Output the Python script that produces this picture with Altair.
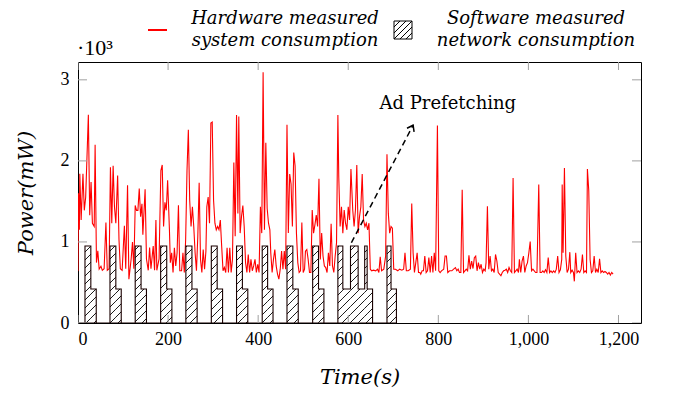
import math
import altair as alt
import pandas as pd

# ---------------- data ----------------
hw_seg_a = [(0,640),(1,1600),(3,1150),(4,1840),(7,1270),(11,1840),(14,1390),(17,1550),(23,2570),(26,1330),(29,1740),(32,1230),(36,1190),(38,2200),(41,745),(44,890),(47,665),(51,700),(54,650),(58,670),(62,1240),(65,650),(69,670),(72,1920),(75,1230),(78,1940),(81,1430),(84,1230),(88,1820),(91,1030),(94,670),(98,650),(103,1200),(106,670),(110,1700),(113,540),(118,790),(121,1000),(124,670),(127,1450),(130,1390),(133,1390),(136,1660),(139,1310),(142,1470),(144,1090),(149,1650),(152,790),(156,650),(159,930),(162,670),(167,950),(170,650),(173,1270),(175,650),(180,790),(184,1880),(187,1950),(190,1190),(193,1490),(196,1390),(199,1760),(203,1150)]
hw_seg_b = [(205,745),(208,866),(211,623),(214,927),(217,704),(220,866),(223,1454),(226,644),(230,644),(233,866),(236,623),(239,1028),(242,1879),(245,2385),(248,1514),(251,1190),(254,1433),(257,1190),(260,866),(263,644),(266,1069),(269,1729),(272,785),(275,623),(278,907),(281,664),(284,887),(286,1433),(289,1555),(292,1231),(295,2466),(298,2478),(301,1514),(304,1231),(307,1150),(310,1190),(313,1150),(316,1271),(319,947),(322,644),(325,684),(328,623),(331,927),(334,623),(337,927),(340,623),(343,785),(346,1980),(349,1069),(352,2567),(355,1352),(357,2547),(360,1109),(363,1312),(366,1450),(369,1190),(372,745),(375,623),(378,846),(381,623),(384,785),(387,644),(390,704),(393,785),(396,623),(399,725),(402,623)]
hw_seg_c = [(405,1433),(408,1109),(411,3094),(414,1150),(417,2223),(420,1413),(423,1231),(426,1150),(428,866),(431,623),(434,785),(437,907),(440,704),(443,603),(446,542),(449,664),(452,887),(455,664),(458,887),(461,664),(464,2446),(467,1109),(470,1838),(473,1717),(476,1190),(479,2102),(482,1940),(485,1109),(488,745),(491,623),(494,644),(497,1239),(500,623),(503,664),(505,887),(508,907),(511,785),(514,623),(517,623),(520,1393),(523,1109),(526,1211),(529,1332),(532,1190),(535,1778),(538,785),(541,1109),(544,826),(547,704),(550,684),(553,623),(556,866),(559,704),(562,1223),(565,704),(568,623),(571,826),(574,988),(577,2567),(579,1798),(582,1190),(585,1433),(588,1109),(591,1393),(594,1231),(597,1150),(600,1433),(603,1271),(606,1899)]
hw_seg_d = [(610,1393),(613,1190),(616,1393),(619,1948),(622,1109),(625,1312),(628,1433),(631,1838),(634,1271),(637,1190),(640,1231),(643,1150),(646,1231),(649,664),(652,644),(656,652),(661,644),(665,664),(668,623),(671,818),(674,644),(679,664),(683,826),(686,2081),(689,1352),(692,1109),(695,1190),(698,1170),(701,664),(705,664),(710,644),(714,664),(719,652),(723,664),(726,866),(729,644),(733,644),(738,664),(741,1474),(744,866),(747,623),(750,745),(753,866),(756,623),(759,623),(761,603),(764,644),(767,644),(770,826),(773,623),(776,644),(779,806),(782,623),(785,826),(788,623),(791,866),(794,644),(798,2438),(801,644),(804,623),(807,644),(812,664),(815,826),(818,826)]
hw_seg_e = [(821,623),(825,644),(830,644),(834,664),(838,684),(841,644),(844,664),(847,623),(850,623),(853,1644),(856,623),(859,644),(862,664),(865,644),(868,834),(871,664),(874,765),(877,672),(880,806),(883,826),(886,644),(889,745),(892,664),(895,725),(898,623),(901,664),(904,644),(906,745),(909,1441),(912,664),(915,826),(918,644),(921,664),(924,623),(927,846),(930,765),(933,623),(936,603),(939,583),(942,623),(945,644),(948,652),(951,664),(954,623),(957,684),(960,644),(963,623),(966,1790),(969,623),(972,644),(975,664),(978,623),(980,785),(983,623),(986,765),(989,826),(992,623),(995,704),(998,745),(1001,866),(1004,1004),(1007,644),(1010,664),(1013,644),(1016,623),(1019,623)]
hw_seg_f = [(1023,1709),(1026,623),(1029,623),(1032,644),(1035,623),(1038,656),(1041,623),(1044,806),(1047,623),(1050,644),(1053,623),(1056,644),(1059,623),(1062,664),(1065,826),(1068,623),(1071,656),(1074,785),(1075,1709),(1077,866),(1080,1911),(1083,826),(1086,623),(1089,664),(1092,874),(1094,623),(1097,652),(1100,623),(1102,514),(1105,866),(1108,623),(1111,644),(1114,623),(1117,664),(1120,846),(1123,623),(1126,644),(1129,623),(1131,1899),(1134,1636),(1137,785),(1140,623),(1143,644),(1146,826),(1149,623),(1152,664),(1155,623),(1158,793),(1161,623),(1164,644),(1167,623),(1170,636),(1173,623),(1176,603),(1179,623),(1182,591),(1185,623),(1188,603)]

# software measured network consumption (step: value holds until next time)
sw_time = [0, 15.5, 28.5, 40.5, 71, 84, 96, 127, 140, 152, 183.5, 197, 208.5,
           239.5, 253, 264.5, 296, 309, 321, 352, 365, 377, 409, 421, 433,
           464, 477, 489, 521, 534, 546, 577, 588, 605, 622, 636.5, 642, 654,
           686, 695, 707]
sw_power = [0, 950, 420, 0, 950, 420, 0, 950, 420, 0, 950, 420, 0,
            950, 420, 0, 950, 420, 0, 950, 420, 0, 950, 420, 0,
            950, 420, 0, 950, 420, 0, 950, 420, 950, 420, 950, 420, 0,
            950, 420, 0]

x_ticks = [0, 200, 400, 600, 800, 1000, 1200]
y_ticks = [0, 1000, 2000, 3000]
series_names = [["Hardware measured", "system consumption"],
                ["Software measured", "network consumption"]]
annot_text = "Ad Prefetching"
annot_pos = (821, 2640)
arrow_t = [607, 744]
arrow_p = [990, 2440]
exp_label = "·10³"

# ---------------- layout ----------------
W, H = 563, 261
XMAX, YMAX = 1250, 3220
sx, sy = W / XMAX, H / YMAX

xs = alt.Scale(domain=[0, XMAX], nice=False, zero=False)
ys = alt.Scale(domain=[0, YMAX], nice=False, zero=False)

hw_pairs = hw_seg_a + hw_seg_b + hw_seg_c + hw_seg_d + hw_seg_e + hw_seg_f
hw = pd.DataFrame(hw_pairs, columns=["t", "p"])
sw = pd.DataFrame({"t": sw_time, "p": sw_power})

# hatch lines (north east lines) clipped to each step rectangle, 45 deg in pixels
d = 8.0
hatch = []
for i in range(len(sw_time) - 1):
    v = sw_power[i]
    if v <= 0:
        continue
    X0, X1 = sw_time[i] * sx, sw_time[i + 1] * sx
    Y0, Y1 = 0.0, v * sy
    k0 = math.floor((X0 - Y1) / d)
    k1 = math.ceil((X1 - Y0) / d)
    for k in range(k0, k1 + 1):
        c = k * d
        xa = max(X0, Y0 + c)
        xb = min(X1, Y1 + c)
        if xb - xa > 0.3:
            hatch.append({"t": xa / sx, "t2": xb / sx,
                          "p": (xa - c) / sy, "p2": (xb - c) / sy})
hatch_df = pd.DataFrame(hatch)

serif = "Liberation Serif"
ital = "DejaVu Serif"

red = alt.Chart(hw).mark_line(color="#ff0000", strokeWidth=1.1, clip=True).encode(
    x=alt.X("t:Q", scale=xs,
            axis=alt.Axis(values=x_ticks, format=",d", title="Time(s)",
                          labelPadding=7, titlePadding=18)),
    y=alt.Y("p:Q", scale=ys,
            axis=alt.Axis(values=y_ticks, labelExpr="datum.value / 1000",
                          title="Power(mW)", labelPadding=9, titlePadding=24)),
)

area_fill = alt.Chart(sw).mark_area(interpolate="step-after", fill="white",
                                    opacity=1, clip=True).encode(
    x=alt.X("t:Q", scale=xs), y=alt.Y("p:Q", scale=ys))

hatch_layer = alt.Chart(hatch_df).mark_rule(color="black", strokeWidth=0.9,
                                            clip=True).encode(
    x=alt.X("t:Q", scale=xs), x2="t2:Q",
    y=alt.Y("p:Q", scale=ys), y2="p2:Q")

outline = alt.Chart(sw).mark_area(interpolate="step-after", fillOpacity=0,
                                  stroke="#1a0000", strokeWidth=1.1,
                                  clip=True).encode(
    x=alt.X("t:Q", scale=xs), y=alt.Y("p:Q", scale=ys))

tick_col = "#a0a0a0"
xt = pd.DataFrame({"t": x_ticks})
yt = pd.DataFrame({"p": y_ticks})
xtick_bottom = alt.Chart(xt).mark_tick(orient="vertical", size=16, thickness=1,
                                       color=tick_col, clip=True, opacity=1).encode(
    x=alt.X("t:Q", scale=xs), y=alt.datum(0))
xtick_top = alt.Chart(xt).mark_tick(orient="vertical", size=16, thickness=1,
                                    color=tick_col, clip=True, opacity=1).encode(
    x=alt.X("t:Q", scale=xs), y=alt.datum(YMAX))
ytick_left = alt.Chart(yt).mark_tick(orient="horizontal", size=18, thickness=1,
                                     color=tick_col, clip=True, opacity=1).encode(
    y=alt.Y("p:Q", scale=ys), x=alt.datum(0))
ytick_right = alt.Chart(yt).mark_tick(orient="horizontal", size=18, thickness=1,
                                      color=tick_col, clip=True, opacity=1).encode(
    y=alt.Y("p:Q", scale=ys), x=alt.datum(XMAX))

# dashed arrow
arrow_df = pd.DataFrame({"t": [arrow_t[0]], "t2": [arrow_t[1]],
                         "p": [arrow_p[0]], "p2": [arrow_p[1]]})
arrow_line = alt.Chart(arrow_df).mark_rule(color="black", strokeWidth=1.5,
                                           strokeDash=[6, 4]).encode(
    x=alt.X("t:Q", scale=xs), x2="t2:Q", y=alt.Y("p:Q", scale=ys), y2="p2:Q")
ang = math.degrees(math.atan2((arrow_t[1] - arrow_t[0]) * sx,
                              (arrow_p[1] - arrow_p[0]) * sy))
head_df = pd.DataFrame({"t": [arrow_t[1]], "p": [arrow_p[1]]})
arrow_head = alt.Chart(head_df).mark_point(
    shape="M-0.8,1.1L0,0L0.8,1.1", size=100, filled=False, stroke="black",
    strokeWidth=1.5, angle=ang, opacity=1).encode(
    x=alt.X("t:Q", scale=xs), y=alt.Y("p:Q", scale=ys))

annot_df = pd.DataFrame({"t": [annot_pos[0]], "p": [annot_pos[1]], "label": [annot_text]})
annot = alt.Chart(annot_df).mark_text(font=ital, fontSize=18, align="center",
                                      baseline="alphabetic", color="black").encode(
    x=alt.X("t:Q", scale=xs), y=alt.Y("p:Q", scale=ys), text="label:N")

one = pd.DataFrame({"a": [0]})
exp_text = alt.Chart(one).mark_text(font=serif, fontSize=22, align="left",
                                    baseline="alphabetic", color="black",
                                    text=exp_label).encode(
    x=alt.value(-1), y=alt.value(-7))

# legend
leg_line = alt.Chart(one).mark_rule(color="#ff0000", strokeWidth=2).encode(
    x=alt.value(70), x2=alt.value(89), y=alt.value(-32))
hatch_box = "M-1,-1H1V1H-1Z M-1,-0.33L-0.33,-1 M-1,0.33L0.33,-1 M-1,1L1,-1 M-0.33,1L1,-0.33 M0.33,1L1,0.33"
leg_box = alt.Chart(one).mark_point(shape=hatch_box, size=324, filled=False,
                                    fill="white", stroke="black",
                                    strokeWidth=1, opacity=1).encode(
    x=alt.value(325), y=alt.value(-32))
leg_texts = []
for cx, lines in zip([207, 458], series_names):
    for j, line in enumerate(lines):
        leg_texts.append(
            alt.Chart(one).mark_text(font=ital, fontSize=18, fontStyle="italic",
                                     align="center", baseline="alphabetic",
                                     color="black", text=line).encode(
                x=alt.value(cx), y=alt.value(-38 + 22 * j)))

chart = alt.layer(
    red, area_fill, hatch_layer, outline,
    xtick_bottom, xtick_top, ytick_left, ytick_right,
    arrow_line, arrow_head, annot, exp_text, leg_line, leg_box, *leg_texts
).properties(
    width=W, height=H,
    autosize=alt.AutoSizeParams(type="none"),
    padding={"left": 70, "top": 54, "right": 25, "bottom": 66},
).configure_view(
    stroke="black", strokeWidth=1
).configure_axis(
    grid=False, ticks=False, domain=False,
    labelFont=serif, labelFontSize=18, labelColor="black",
    titleFont=ital, titleFontSize=21, titleFontStyle="italic",
    titleFontWeight="normal", titleColor="black",
)

chart.save("out.html", embed_options={"renderer": "svg", "actions": False})
